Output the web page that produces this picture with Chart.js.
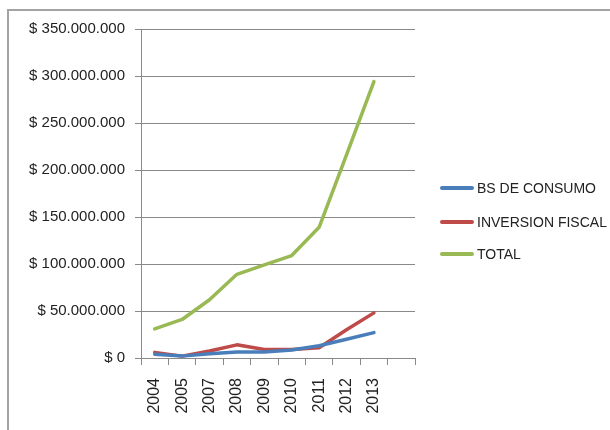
<!DOCTYPE html>
<html>
<head>
<meta charset="utf-8">
<script src="https://cdn.jsdelivr.net/npm/chart.js@4.4.0/dist/chart.umd.min.js"></script>
<style>
  html, body { margin: 0; padding: 0; background: #fff; overflow: hidden; }
  #wrap { position: relative; width: 610px; height: 430px; overflow: hidden; }
  #frame { position: absolute; left: 7px; top: 9px; width: 640px; height: 460px; border: 2px solid #a3a3a3; }
  #c { position: absolute; left: 0; top: 0; }
  #legend { position: absolute; left: 440px; top: 0; font: 14px "Liberation Sans", Arial, sans-serif; color: #222; }
  .item { position: absolute; left: 0; white-space: nowrap; display: flex; align-items: center; height: 18px; }
  .sw { width: 34px; height: 4px; border-radius: 2px; margin-right: 3px; }
</style>
</head>
<body>
<div id="wrap">
  <div id="frame"></div>
  <canvas id="c" width="610" height="430"></canvas>
  <div id="legend"></div>
</div>
<script>
// data
const years = ['2004', '2005', '2007', '2008', '2009', '2010', '2011', '2012', '2013', ''];
const bsConsumo = [4000000, 2000000, 4500000, 6500000, 6500000, 8500000, 13000000, 20000000, 27000000, null];
const inversionFiscal = [6000000, 2000000, 7500000, 14000000, 9000000, 9000000, 11000000, 30000000, 48000000, null];
const total = [31000000, 41000000, 62000000, 89000000, 99000000, 109000000, 139000000, 216000000, 294000000, null];
const yTicks = [0, 50000000, 100000000, 150000000, 200000000, 250000000, 300000000, 350000000];

const seriesNames = ['BS DE CONSUMO', 'INVERSION FISCAL', 'TOTAL'];
const seriesColors = ['#4a7ebb', '#be4b48', '#98b954'];

function money(v) {
  return '$ ' + String(v).replace(/\B(?=(\d{3})+(?!\d))/g, '.');
}

const datasets = [bsConsumo, inversionFiscal, total].map((d, i) => ({
  label: seriesNames[i],
  data: d,
  borderColor: seriesColors[i],
  backgroundColor: seriesColors[i],
  borderWidth: 3.5,
  pointRadius: 0,
  tension: 0,
  borderCapStyle: 'round',
  borderJoinStyle: 'round'
}));

const grey = '#898989';

const chart = new Chart(document.getElementById('c').getContext('2d'), {
  type: 'line',
  data: { labels: years, datasets: datasets },
  options: {
    responsive: false,
    animation: false,
    layout: { padding: { top: 29, right: 195, left: 0, bottom: 0 } },
    plugins: { legend: { display: false }, tooltip: { enabled: false } },
    scales: {
      y: {
        min: 0,
        max: 350000000,
        afterBuildTicks: s => { s.ticks = yTicks.map(v => ({ value: v })); },
        afterFit: s => { s.width = 141; },
        ticks: {
          callback: v => money(v),
          color: '#222',
          padding: 10,
          font: { family: '"Liberation Sans", Arial, sans-serif', size: 15 }
        },
        grid: { color: grey, lineWidth: 1, tickLength: 6 },
        border: { color: grey }
      },
      x: {
        offset: true,
        afterFit: s => { s.height = 72; },
        ticks: {
          minRotation: 90,
          maxRotation: 90,
          autoSkip: false,
          color: '#222',
          padding: 13,
          font: { family: '"Liberation Sans", Arial, sans-serif', size: 16 }
        },
        grid: { offset: true, drawOnChartArea: false, color: grey, tickLength: 7 },
        border: { color: grey }
      }
    }
  }
});

// legend at the right, built from the datasets
const legendTops = [179, 213, 245];
const legend = document.getElementById('legend');
chart.data.datasets.forEach((ds, i) => {
  const item = document.createElement('div');
  item.className = 'item';
  item.style.top = legendTops[i] + 'px';
  const sw = document.createElement('span');
  sw.className = 'sw';
  sw.style.background = ds.borderColor;
  const txt = document.createElement('span');
  txt.textContent = ds.label;
  item.appendChild(sw);
  item.appendChild(txt);
  legend.appendChild(item);
});
</script>
</body>
</html>
